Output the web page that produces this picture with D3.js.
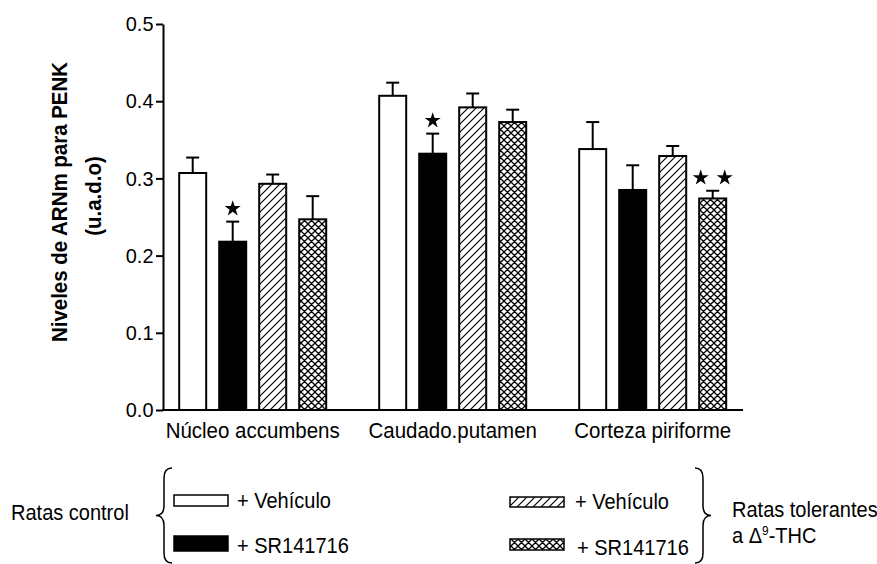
<!DOCTYPE html>
<html>
<head>
<meta charset="utf-8">
<script src="https://cdn.jsdelivr.net/npm/d3@7"></script>
<style>
  html, body { margin: 0; padding: 0; background: #fff; }
  svg { display: block; font-family: "Liberation Sans", Arial, sans-serif; }
</style>
</head>
<body>
<svg id="chart" width="877" height="564"></svg>
<script>
// Brain regions along the x axis
const categories = ["Núcleo accumbens", "Caudado.putamen", "Corteza piriforme"];

// Treatment groups (one bar each per region)
const seriesKeys = ["ctrlVeh", "ctrlSR", "tolVeh", "tolSR"];
const legendLabels = ["+ Vehículo", "+ SR141716", "+ Vehículo", "+ SR141716"];

// PENK mRNA levels (u.a.d.o), mean per region
const ctrlVeh = [0.307, 0.407, 0.338];
const ctrlSR  = [0.218, 0.332, 0.285];
const tolVeh  = [0.293, 0.392, 0.329];
const tolSR   = [0.247, 0.373, 0.274];

// Standard error per region
const ctrlVehErr = [0.020, 0.017, 0.035];
const ctrlSRErr  = [0.026, 0.026, 0.032];
const tolVehErr  = [0.012, 0.018, 0.013];
const tolSRErr   = [0.030, 0.016, 0.010];

// Significance stars per region
const ctrlVehStars = [0, 0, 0];
const ctrlSRStars  = [1, 1, 0];
const tolVehStars  = [0, 0, 0];
const tolSRStars   = [0, 0, 2];

const yTicks = [0.0, 0.1, 0.2, 0.3, 0.4, 0.5];

const means = { ctrlVeh, ctrlSR, tolVeh, tolSR };
const errs = { ctrlVeh: ctrlVehErr, ctrlSR: ctrlSRErr, tolVeh: tolVehErr, tolSR: tolSRErr };
const stars = { ctrlVeh: ctrlVehStars, ctrlSR: ctrlSRStars, tolVeh: tolVehStars, tolSR: tolSRStars };

const svg = d3.select("#chart");

// Narrow text: a regular face squeezed horizontally
const SQUEEZE = 0.91;
function narrowText(parent, x, y, str, size, opts = {}) {
  const rot = opts.rotate ? ` rotate(${opts.rotate})` : "";
  return parent.append("text")
    .attr("transform", `translate(${x},${y})${rot} scale(${SQUEEZE},1)`)
    .attr("font-size", size)
    .attr("font-weight", opts.weight || "normal")
    .attr("text-anchor", opts.anchor || "start")
    .text(str);
}

// Fill patterns
const defs = svg.append("defs");
const hatch = defs.append("pattern")
  .attr("id", "hatch").attr("patternUnits", "userSpaceOnUse")
  .attr("width", 8).attr("height", 8);
hatch.append("rect").attr("width", 8).attr("height", 8).attr("fill", "#fff");
hatch.append("path")
  .attr("d", "M-2,2 L2,-2 M0,8 L8,0 M6,10 L10,6")
  .attr("stroke", "#000").attr("stroke-width", 1.2);

const cross = defs.append("pattern")
  .attr("id", "cross").attr("patternUnits", "userSpaceOnUse")
  .attr("width", 7).attr("height", 7);
cross.append("rect").attr("width", 7).attr("height", 7).attr("fill", "#fff");
cross.append("path")
  .attr("d", "M0,0 L7,7 M-1,6 L1,8 M6,-1 L8,1 M0,7 L7,0 M-1,1 L1,-1 M6,8 L8,6")
  .attr("stroke", "#000").attr("stroke-width", 1.3);

const fills = { ctrlVeh: "#fff", ctrlSR: "#000", tolVeh: "url(#hatch)", tolSR: "url(#cross)" };

// Scales
const x0 = d3.scaleBand().domain(categories).range([152.7, 752.7]).padding(0);
const x1 = d3.scaleBand().domain(seriesKeys).range([20, 180])
  .paddingInner(0.325).paddingOuter(0.1625);
const y = d3.scaleLinear().domain([0, 0.5]).range([410, 24]);

const axisX = 163, axisEnd = 743;

// One row per bar
const rows = [];
categories.forEach((c, i) => {
  seriesKeys.forEach(k => {
    rows.push({ cat: c, key: k, v: means[k][i], e: errs[k][i], s: stars[k][i] });
  });
});

const g = svg.append("g");
const bx = d => x0(d.cat) + x1(d.key);
const bw = x1.bandwidth();

// Error bars (upper whisker only)
const eb = g.selectAll("g.err").data(rows).join("g").attr("class", "err")
  .attr("stroke", "#000").attr("stroke-width", 2);
eb.append("line")
  .attr("x1", d => bx(d) + bw / 2).attr("x2", d => bx(d) + bw / 2)
  .attr("y1", d => y(d.v)).attr("y2", d => y(d.v + d.e));
eb.append("line")
  .attr("x1", d => bx(d) + bw / 2 - 6.5).attr("x2", d => bx(d) + bw / 2 + 6.5)
  .attr("y1", d => y(d.v + d.e)).attr("y2", d => y(d.v + d.e));

g.selectAll("rect.bar").data(rows).join("rect").attr("class", "bar")
  .attr("x", d => bx(d))
  .attr("width", bw)
  .attr("y", d => y(d.v))
  .attr("height", d => y(0) - y(d.v))
  .attr("fill", d => fills[d.key])
  .attr("stroke", "#000").attr("stroke-width", 2);

// Significance stars
const starPath = d3.symbol(d3.symbolStar).size(80)();
const starRows = [];
rows.forEach(d => {
  for (let j = 0; j < d.s; j++) {
    const off = d.s === 1 ? 0 : (j - (d.s - 1) / 2) * 24;
    starRows.push({ cx: bx(d) + bw / 2 + off, cy: y(d.v + d.e) - 13 });
  }
});
g.selectAll("path.star").data(starRows).join("path").attr("class", "star")
  .attr("d", starPath)
  .attr("transform", d => `translate(${d.cx},${d.cy})`)
  .attr("fill", "#000");

// Y axis
const yAxis = d3.axisLeft(y).tickValues(yTicks).tickFormat(d3.format(".1f"))
  .tickSize(7).tickSizeOuter(0).tickPadding(3);
const ya = svg.append("g").attr("transform", `translate(${axisX},0)`).call(yAxis);
ya.select(".domain").attr("stroke-width", 2);
ya.selectAll(".tick line").attr("stroke-width", 2);
ya.selectAll(".tick text").attr("font-size", 21).attr("font-family", "Liberation Sans, Arial, sans-serif")
  .attr("fill", "#000").attr("transform", "scale(0.95,1)");

// X axis baseline
svg.append("line").attr("x1", axisX - 1).attr("x2", axisEnd)
  .attr("y1", y(0)).attr("y2", y(0)).attr("stroke", "#000").attr("stroke-width", 2);

// Category labels
categories.forEach(c => {
  narrowText(svg, x0(c) + x0.bandwidth() / 2, 438, c, 22.5, { anchor: "middle" });
});

// Y axis title (two lines)
narrowText(svg, 67, 202, "Niveles de ARNm para PENK", 22.5, { rotate: -90, anchor: "middle", weight: "bold" });
narrowText(svg, 101, 196, "(u.a.d.o)", 22.5, { rotate: -90, anchor: "middle", weight: "bold" });

// Legend
const leg = svg.append("g");
narrowText(leg, 11, 520, "Ratas control", 22);
narrowText(leg, 732, 517, "Ratas tolerantes", 22);
const thc = narrowText(leg, 732, 543, "", 22);
thc.append("tspan").text("a Δ");
thc.append("tspan").attr("font-size", 13).attr("dy", -8).text("9");
thc.append("tspan").attr("dy", 8).text("-THC");

const legendItems = [
  { key: "ctrlVeh", x: 174, y: 495, w: 54, h: 11, tx: 237, ty: 508 },
  { key: "ctrlSR",  x: 174, y: 536, w: 54, h: 15, tx: 237, ty: 553 },
  { key: "tolVeh",  x: 510, y: 497, w: 54, h: 10, tx: 575, ty: 509 },
  { key: "tolSR",   x: 510, y: 539, w: 54, h: 11, tx: 577, ty: 555 }
];
legendItems.forEach((it, i) => {
  leg.append("rect").attr("x", it.x).attr("y", it.y).attr("width", it.w).attr("height", it.h)
    .attr("fill", fills[it.key]).attr("stroke", "#000").attr("stroke-width", 1.5);
  narrowText(leg, it.tx, it.ty, legendLabels[i], 22);
});

// Curly braces grouping the legend rows
function brace(spine, tip, end, y0, y1) {
  const ym = (y0 + y1) / 2;
  return `M${end},${y0} Q${spine},${y0} ${spine},${y0 + 10} L${spine},${ym - 10} ` +
         `Q${spine},${ym} ${tip},${ym} Q${spine},${ym} ${spine},${ym + 10} ` +
         `L${spine},${y1 - 10} Q${spine},${y1} ${end},${y1}`;
}
svg.append("path").attr("d", brace(164, 156, 172, 468, 563))
  .attr("fill", "none").attr("stroke", "#000").attr("stroke-width", 1.5);
svg.append("path").attr("d", brace(703, 711, 695, 468, 563))
  .attr("fill", "none").attr("stroke", "#000").attr("stroke-width", 1.5);
</script>
</body>
</html>
